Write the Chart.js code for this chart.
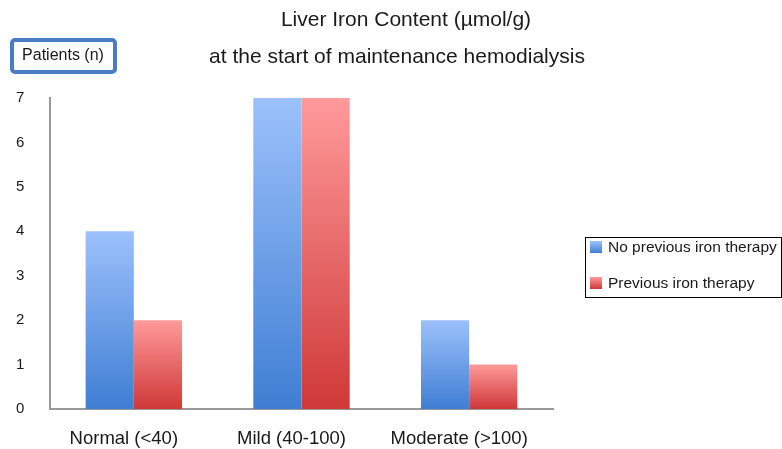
<!DOCTYPE html>
<html>
<head>
<meta charset="utf-8">
<script src="https://cdn.jsdelivr.net/npm/chart.js@4.4.1/dist/chart.umd.min.js"></script>
<style>
  html, body { margin: 0; padding: 0; background: #fff; }
  #wrap { width: 782px; height: 449px; position: relative; }
</style>
</head>
<body>
<div id="wrap"><canvas id="ironChart" width="782" height="449"></canvas></div>
<script>
// Data
const categories = ['Normal (<40)', 'Mild (40-100)', 'Moderate (>100)'];
const noPrevious = [4, 7, 2];
const previous = [2, 7, 1];
const seriesNames = ['No previous iron therapy', 'Previous iron therapy'];
const yTicks = [0, 1, 2, 3, 4, 5, 6, 7];
const titleLines = ['Liver Iron Content (\u00b5mol/g)', 'at the start of maintenance hemodialysis'];
const yAxisTitle = 'Patients (n)';

const FONT = '"Liberation Sans", Arial, Helvetica, sans-serif';
const blueStops = ['#9cc1fb', '#3f7ed3'];
const redStops = ['#ff9a9a', '#cf3838'];

// vertical gradient sized to each bar
function barFill(stops) {
  return ctx => {
    const chart = ctx.chart;
    if (!chart.chartArea || !ctx.parsed) return stops[1];
    const y = chart.scales.y;
    const top = y.getPixelForValue(ctx.parsed.y);
    const bottom = y.getPixelForValue(0);
    const g = chart.ctx.createLinearGradient(0, top, 0, bottom);
    g.addColorStop(0, stops[0]);
    g.addColorStop(1, stops[1]);
    return g;
  };
}

function swatch(c, x, y, stops) {
  const g = c.createLinearGradient(0, y, 0, y + 12);
  g.addColorStop(0, stops[0]);
  g.addColorStop(1, stops[1]);
  c.fillStyle = g;
  c.fillRect(x, y, 12, 12);
}

// titles, axis label box and legend box
const decor = {
  id: 'decor',
  afterDraw(chart) {
    const c = chart.ctx;
    c.save();
    c.fillStyle = '#1a1a1a';
    c.textBaseline = 'middle';
    c.textAlign = 'center';
    c.font = '21px ' + FONT;
    c.fillText(titleLines[0], 406, 20);
    c.fillText(titleLines[1], 397, 57);

    // Patients (n) box
    c.strokeStyle = '#4a7cc1';
    c.lineWidth = 4;
    c.beginPath();
    c.roundRect(12, 40, 103, 32, 3);
    c.stroke();
    c.font = '16px ' + FONT;
    c.fillText(yAxisTitle, 63, 56);

    // legend
    c.strokeStyle = '#000';
    c.lineWidth = 1;
    c.strokeRect(585.5, 237.5, 196, 60);
    c.textAlign = 'left';
    c.font = '15.5px ' + FONT;
    swatch(c, 590, 241, blueStops);
    c.fillStyle = '#1a1a1a';
    c.fillText(chart.data.datasets[0].label, 608, 248);
    swatch(c, 590, 277, redStops);
    c.fillStyle = '#1a1a1a';
    c.fillText(chart.data.datasets[1].label, 608, 284);
    c.restore();
  }
};

new Chart(document.getElementById('ironChart'), {
  type: 'bar',
  data: {
    labels: categories,
    datasets: [
      { label: seriesNames[0], data: noPrevious, backgroundColor: barFill(blueStops) },
      { label: seriesNames[1], data: previous, backgroundColor: barFill(redStops) }
    ]
  },
  options: {
    responsive: false,
    animation: false,
    devicePixelRatio: 1,
    layout: { padding: { left: 16, top: 98, right: 229, bottom: 0 } },
    datasets: { bar: { categoryPercentage: 0.575, barPercentage: 1 } },
    plugins: {
      legend: { display: false },
      title: { display: false },
      tooltip: { enabled: false }
    },
    scales: {
      x: {
        grid: { display: false, drawTicks: false },
        border: { display: true, color: '#999', width: 2 },
        ticks: { padding: 19, labelOffset: -10, color: '#1a1a1a', font: { family: FONT, size: 18.5 } },
        afterFit: s => { s.height = 40; }
      },
      y: {
        min: 0,
        max: 7,
        grid: { display: false, drawTicks: false },
        border: { display: true, color: '#999', width: 2 },
        afterBuildTicks: s => { s.ticks = yTicks.map(v => ({ value: v })); },
        ticks: { crossAlign: 'far', padding: 0, color: '#1a1a1a', font: { family: FONT, size: 15 } },
        afterFit: s => { s.width = 34; }
      }
    }
  },
  plugins: [decor]
});
</script>
</body>
</html>
